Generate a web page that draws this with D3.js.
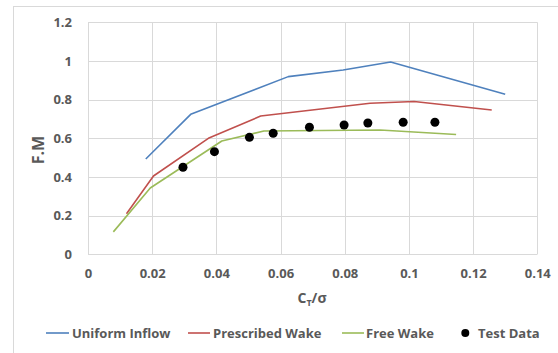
<!DOCTYPE html>
<html>
<head>
<meta charset="utf-8">
<script src="https://cdn.jsdelivr.net/npm/d3@7"></script>
<style>
  html, body { margin: 0; padding: 0; background: #fff; }
  svg text { font-family: "Open Sans", "Liberation Sans", sans-serif; font-weight: 700; fill: #595959; }
</style>
</head>
<body>
<svg id="chart" width="558" height="353"></svg>
<script>
// Figure of merit vs. thrust-weighted solidity: three wake models and test data
const uniformCt = [0.018, 0.032, 0.0624, 0.0795, 0.0943, 0.130];
const uniformFM = [0.493, 0.724, 0.919, 0.953, 0.995, 0.828];

const prescribedCt = [0.012, 0.0204, 0.0375, 0.0538, 0.0879, 0.1016, 0.1258];
const prescribedFM = [0.210, 0.405, 0.600, 0.715, 0.781, 0.790, 0.746];

const freeCt = [0.0079, 0.0194, 0.0417, 0.0548, 0.091, 0.1147];
const freeFM = [0.116, 0.343, 0.586, 0.638, 0.643, 0.620];

const testCt = [0.0296, 0.0394, 0.0503, 0.0577, 0.069, 0.0798, 0.0872, 0.0982, 0.1081];
const testFM = [0.450, 0.531, 0.605, 0.626, 0.657, 0.669, 0.679, 0.683, 0.683];

const xTicks = [0, 0.02, 0.04, 0.06, 0.08, 0.1, 0.12, 0.14];
const yTicks = [0, 0.2, 0.4, 0.6, 0.8, 1, 1.2];

const seriesNames = ["Uniform Inflow", "Prescribed Wake", "Free Wake", "Test Data"];
const colors = { uniform: "#4F81BD", prescribed: "#C0504D", free: "#9BBB59", test: "#000000" };

const svg = d3.select("#chart");

// chart area frame
svg.append("rect").attr("x", 13.5).attr("y", 6.5).attr("width", 560).attr("height", 360)
  .attr("fill", "#fff").attr("stroke", "#d9d9d9");

const x = d3.scaleLinear().domain([0, 0.14]).range([88, 537.3]);
const y = d3.scaleLinear().domain([0, 1.2]).range([254.3, 22.3]);

// gridlines
const grid = svg.append("g");
grid.selectAll("line.v").data(xTicks).join("line")
  .attr("x1", d => Math.round(x(d)) + 0.5).attr("x2", d => Math.round(x(d)) + 0.5)
  .attr("y1", y(0)).attr("y2", y(1.2))
  .attr("stroke", "#d9d9d9").attr("stroke-width", 1);
grid.selectAll("line.h").data(yTicks).join("line")
  .attr("y1", d => Math.round(y(d)) + 0.5).attr("y2", d => Math.round(y(d)) + 0.5)
  .attr("x1", x(0)).attr("x2", x(0.14))
  .attr("stroke", "#d9d9d9").attr("stroke-width", 1);

// axes (labels only; lines come from the grid)
const xAxis = d3.axisBottom(x).tickValues(xTicks).tickSize(0).tickPadding(14)
  .tickFormat(d => d3.format("")(+d.toFixed(2)));
const gx = svg.append("g").attr("transform", `translate(0,${y(0)})`).call(xAxis);
gx.select(".domain").remove();
gx.selectAll("text").attr("font-size", 13).attr("fill", "#595959").attr("font-family", null);

const yAxis = d3.axisLeft(y).tickValues(yTicks).tickSize(0).tickPadding(16)
  .tickFormat(d => d3.format("")(+d.toFixed(1)));
const gy = svg.append("g").attr("transform", `translate(${x(0)},0)`).call(yAxis);
gy.select(".domain").remove();
gy.selectAll("text").attr("font-size", 13).attr("fill", "#595959").attr("font-family", null);

// axis titles
const xt = svg.append("text").attr("x", 312).attr("y", 303).attr("text-anchor", "middle").attr("font-size", 14);
xt.append("tspan").text("C");
xt.append("tspan").attr("font-size", 9).attr("dy", 3).text("T");
xt.append("tspan").attr("dy", -3).text("/σ");

svg.append("text").attr("transform", "translate(44,150) rotate(-90)")
  .attr("text-anchor", "middle").attr("font-size", 16).text("F.M");

// series lines
const line = d3.line().x(d => x(d[0])).y(d => y(d[1]));
const lines = [
  [uniformCt, uniformFM, colors.uniform],
  [prescribedCt, prescribedFM, colors.prescribed],
  [freeCt, freeFM, colors.free]
];
lines.forEach(([cx, fy, c]) => {
  svg.append("path").datum(d3.zip(cx, fy)).attr("d", line)
    .attr("fill", "none").attr("stroke", c).attr("stroke-width", 1.6)
    .attr("stroke-linejoin", "round");
});

// test points
svg.append("g").selectAll("circle").data(d3.zip(testCt, testFM)).join("circle")
  .attr("cx", d => x(d[0])).attr("cy", d => y(d[1])).attr("r", 4.5).attr("fill", colors.test);

// legend
const legY = 333;
const legend = [
  { name: seriesNames[0], type: "line", color: colors.uniform, x0: 46, x1: 69, tx: 72 },
  { name: seriesNames[1], type: "line", color: colors.prescribed, x0: 188, x1: 210, tx: 213 },
  { name: seriesNames[2], type: "line", color: colors.free, x0: 342, x1: 364, tx: 366 },
  { name: seriesNames[3], type: "dot", color: colors.test, x0: 465.3, tx: 478 }
];
const lg = svg.append("g");
legend.forEach(l => {
  if (l.type === "line") {
    lg.append("line").attr("x1", l.x0).attr("x2", l.x1).attr("y1", legY).attr("y2", legY)
      .attr("stroke", l.color).attr("stroke-width", 1.6);
  } else {
    lg.append("circle").attr("cx", l.x0).attr("cy", legY).attr("r", 4).attr("fill", l.color);
  }
  lg.append("text").attr("x", l.tx).attr("y", legY).attr("dy", "0.35em")
    .attr("font-size", 13).text(l.name);
});
</script>
</body>
</html>
